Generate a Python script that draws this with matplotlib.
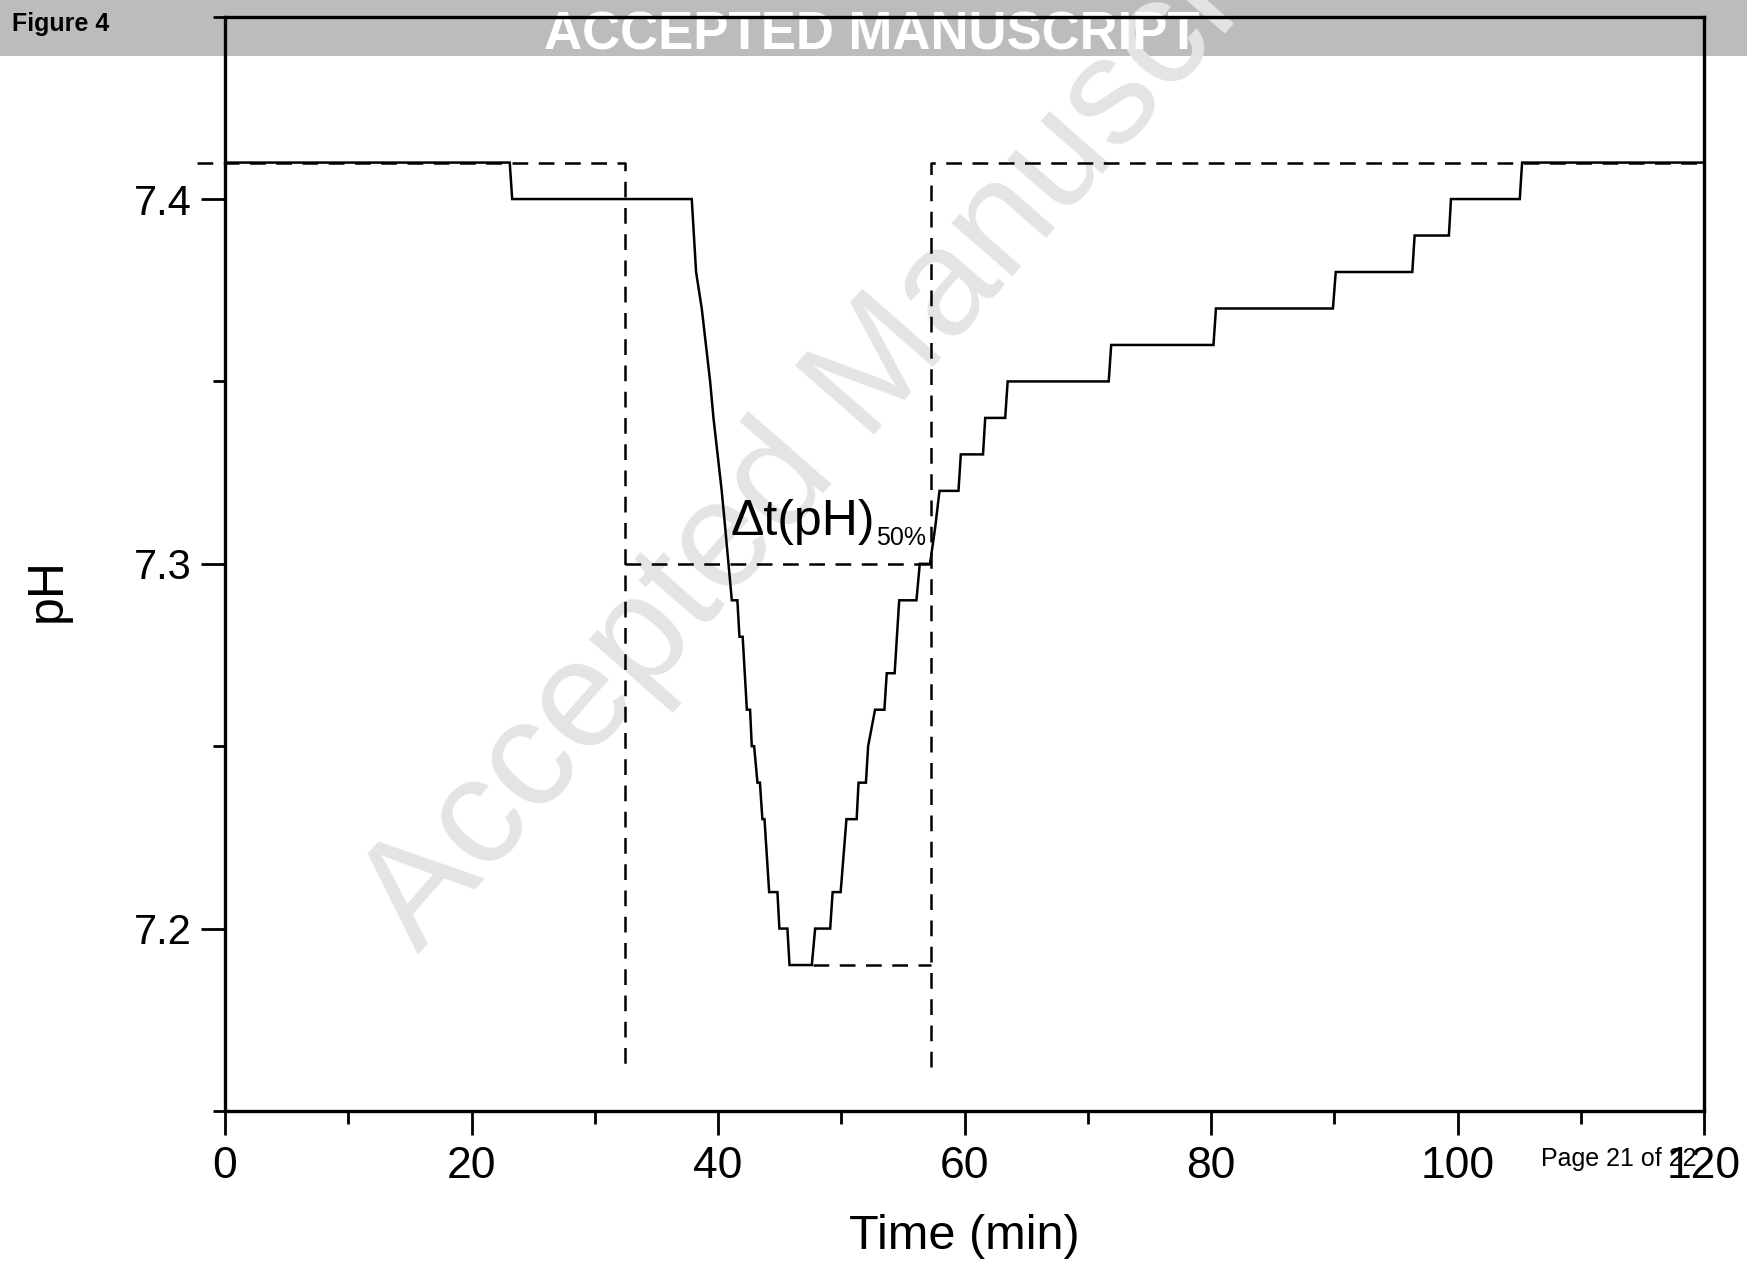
import matplotlib
matplotlib.use("Agg")
import matplotlib.pyplot as plt
from matplotlib.patches import Rectangle
from matplotlib.ticker import MultipleLocator

plt.rcParams['font.family'] = ['Liberation Sans', 'DejaVu Sans']

# pH trace (time in min, pH); step changes are 0.01 pH
time_min = [0, 23.10, 23.30, 37.87, 38.22, 38.68, 39.36, 39.63, 40.30, 40.58,
            41.12, 41.57, 41.74, 42.00, 42.34, 42.60, 42.74, 42.93, 43.20, 43.40,
            43.60, 43.77, 44.15, 44.82, 44.98, 45.63, 45.80, 47.61,
            47.88, 49.10, 49.30, 49.95, 50.42, 51.25, 51.40, 52.00, 52.18, 52.74,
            53.50, 53.69, 54.33, 54.70, 56.10, 56.37, 57.20, 57.62, 57.97, 59.51,
            59.70, 61.50, 61.68, 63.30, 63.50, 71.70, 71.90, 80.20, 80.40, 89.89,
            90.12, 96.33, 96.52, 99.30, 99.47, 105.05, 105.24, 120.0]
ph = [7.41, 7.41, 7.40, 7.40, 7.38, 7.37, 7.35, 7.34, 7.32, 7.31,
      7.29, 7.29, 7.28, 7.28, 7.26, 7.26, 7.25, 7.25, 7.24, 7.24,
      7.23, 7.23, 7.21, 7.21, 7.20, 7.20, 7.19, 7.19,
      7.20, 7.20, 7.21, 7.21, 7.23, 7.23, 7.24, 7.24, 7.25, 7.26,
      7.26, 7.27, 7.27, 7.29, 7.29, 7.30, 7.30, 7.31, 7.32, 7.32,
      7.33, 7.33, 7.34, 7.34, 7.35, 7.35, 7.36, 7.36, 7.37, 7.37,
      7.38, 7.38, 7.39, 7.39, 7.40, 7.40, 7.41, 7.41]

# construction lines for the 50 % recovery interval
ph_base = 7.41
ph_half = 7.30
ph_min = 7.19
ph_guide_end = 7.162
t_start = -2.3
t_drop = 32.46
t_back = 57.24
t_min_end = 47.7
t_end = 120

fig = plt.figure(figsize=(17.47, 12.73), dpi=100)
fig.patch.set_facecolor('white')

# grey header strip
fig.patches.append(Rectangle((0, 0.956), 1, 0.044, transform=fig.transFigure,
                             facecolor='#bcbcbc', edgecolor='none', zorder=-3))
fig.text(0.007, 0.981, 'Figure 4', fontsize=18, fontweight='bold',
         color='black', ha='left', va='center', zorder=-1)
fig.text(0.499, 0.972, 'ACCEPTED MANUSCRIPT', fontsize=38, fontweight='bold',
         color='white', ha='center', va='center', zorder=-1)
fig.text(0.240, 0.250, 'Accepted Manuscript', fontsize=110, color='#e4e4e4',
         rotation=48.8, rotation_mode='anchor', ha='left', va='baseline',
         zorder=-2)

ax = fig.add_axes([0.1288, 0.1273, 0.8466, 0.8596])
ax.patch.set_visible(False)

dash = (0, (6.3, 4.2))
ax.plot([t_start, t_drop, t_drop], [ph_base, ph_base, ph_guide_end],
        color='black', lw=1.8, linestyle=dash, clip_on=False)
ax.plot([t_drop, t_back], [ph_half, ph_half], color='black', lw=1.8, linestyle=dash)
ax.plot([t_back, t_back, t_end], [ph_guide_end, ph_base, ph_base],
        color='black', lw=1.8, linestyle=dash)
ax.plot([t_min_end, t_back], [ph_min, ph_min], color='black', lw=1.8, linestyle=dash)

ax.plot(time_min, ph, color='black', lw=1.8, solid_joinstyle='miter')

label = ax.text(41.0, 7.3078, '\u0394t(pH)', fontsize=36, ha='left',
                va='baseline')
ax.annotate('50%', xy=(1, 0), xycoords=label, xytext=(1, 0),
            textcoords='offset points', fontsize=18, ha='left', va='baseline')

ax.set_xlim(0, 120)
ax.set_ylim(7.15, 7.45)
ax.xaxis.set_major_locator(MultipleLocator(20))
ax.xaxis.set_minor_locator(MultipleLocator(10))
ax.yaxis.set_minor_locator(MultipleLocator(0.05))
ax.set_yticks([7.2, 7.3, 7.4])
ax.set_yticklabels(['7.2', '7.3', '7.4'])

for side in ['left', 'right', 'top', 'bottom']:
    ax.spines[side].set_linewidth(2.4)

ax.tick_params(which='major', direction='out', length=17, width=2.0, pad=7)
ax.tick_params(which='minor', direction='out', length=9, width=2.0)
ax.tick_params(axis='y', labelsize=30)
ax.tick_params(axis='x', labelsize=32, pad=8)

ax.set_xlabel('Time (min)', fontsize=35, labelpad=20)
ax.set_ylabel('pH', fontsize=36)
ax.yaxis.set_label_coords(-0.104, 0.476)

fig.text(0.971, 0.0896, 'Page 21 of 22', fontsize=18, ha='right', va='center')

fig.savefig('out.png', dpi=100)
